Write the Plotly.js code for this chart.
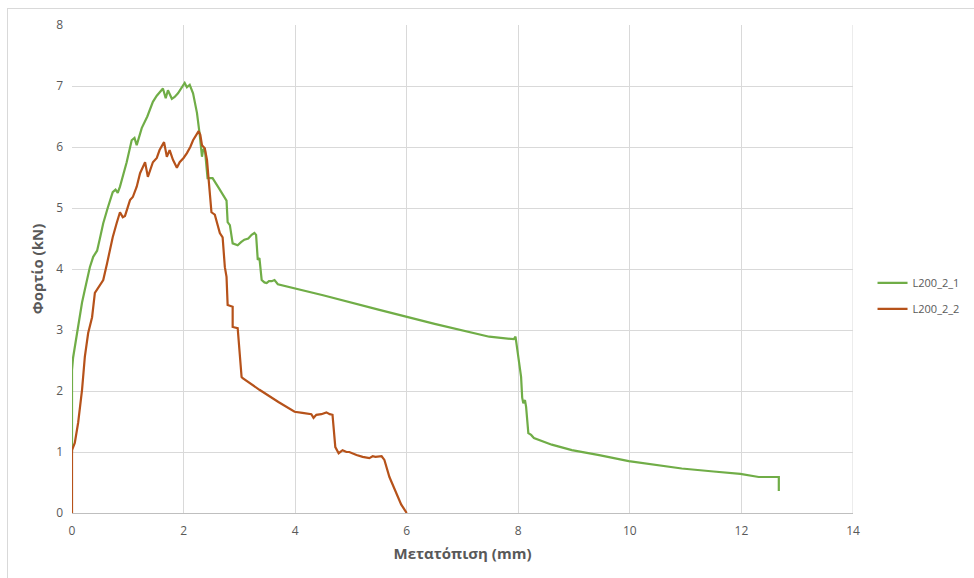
<!DOCTYPE html>
<html>
<head>
<meta charset="utf-8">
<script src="https://cdn.plot.ly/plotly-3.0.1.min.js"></script>
<style>
html,body{margin:0;padding:0;background:#fff;}
#wrap{position:relative;width:974px;height:578px;overflow:hidden;}
#frame{position:absolute;left:7px;top:8px;width:1000px;height:700px;border-top:1px solid #d9d9d9;border-left:1px solid #d9d9d9;}
#chart{position:absolute;left:0;top:0;width:974px;height:578px;}
</style>
</head>
<body>
<div id="wrap"><div id="frame"></div><div id="chart"></div></div>
<script>
var s1Name = "L200_2_1";
var s1X = [0, 0, 0.02, 0.05, 0.09, 0.14, 0.18, 0.23, 0.28, 0.32, 0.38, 0.45, 0.5, 0.56, 0.64, 0.73, 0.78, 0.82, 0.86, 0.91, 0.98, 1.07, 1.12, 1.16, 1.25, 1.35, 1.45, 1.52, 1.57, 1.63, 1.68, 1.72, 1.79, 1.84, 1.9, 1.97, 2.02, 2.06, 2.11, 2.17, 2.24, 2.29, 2.33, 2.35, 2.38, 2.43, 2.52, 2.63, 2.74, 2.77, 2.79, 2.83, 2.88, 2.93, 2.97, 3.03, 3.09, 3.16, 3.22, 3.27, 3.3, 3.33, 3.36, 3.4, 3.45, 3.49, 3.53, 3.58, 3.63, 3.69, 4.5, 5.51, 6.5, 7.48, 7.92, 7.95, 7.98, 8.02, 8.05, 8.07, 8.09, 8.12, 8.14, 8.18, 8.23, 8.28, 8.6, 8.96, 9.45, 9.98, 10.5, 10.93, 11.5, 11.98, 12.31, 12.67, 12.67];
var s1Y = [1.0, 2.34, 2.55, 2.72, 2.98, 3.2, 3.45, 3.66, 3.85, 4.03, 4.2, 4.3, 4.5, 4.75, 5.0, 5.26, 5.3, 5.25, 5.35, 5.5, 5.75, 6.11, 6.15, 6.03, 6.31, 6.5, 6.74, 6.84, 6.9, 6.96, 6.8, 6.93, 6.79, 6.82, 6.88, 6.97, 7.05, 6.98, 7.02, 6.88, 6.56, 6.2, 5.84, 5.95, 5.98, 5.49, 5.49, 5.33, 5.16, 5.12, 4.77, 4.72, 4.42, 4.4, 4.39, 4.44, 4.48, 4.5, 4.56, 4.59, 4.56, 4.15, 4.18, 3.82, 3.78, 3.77, 3.8, 3.8, 3.82, 3.75, 3.57, 3.33, 3.1, 2.89, 2.85, 2.89, 2.67, 2.45, 2.23, 1.89, 1.8, 1.85, 1.74, 1.31, 1.28, 1.23, 1.12, 1.03, 0.95, 0.85, 0.78, 0.73, 0.68, 0.64, 0.59, 0.59, 0.36];

var s2Name = "L200_2_2";
var s2X = [0, 0, 0.05, 0.11, 0.18, 0.23, 0.29, 0.36, 0.41, 0.47, 0.56, 0.63, 0.68, 0.73, 0.8, 0.86, 0.91, 0.95, 1.04, 1.09, 1.16, 1.22, 1.31, 1.36, 1.45, 1.52, 1.57, 1.65, 1.7, 1.75, 1.81, 1.88, 1.93, 2.0, 2.06, 2.12, 2.17, 2.22, 2.27, 2.3, 2.33, 2.38, 2.42, 2.45, 2.5, 2.56, 2.65, 2.7, 2.74, 2.77, 2.79, 2.88, 2.88, 2.97, 3.04, 3.06, 3.36, 3.7, 3.99, 4.13, 4.29, 4.33, 4.38, 4.47, 4.56, 4.62, 4.67, 4.72, 4.78, 4.85, 4.92, 4.97, 5.04, 5.1, 5.21, 5.33, 5.39, 5.44, 5.55, 5.6, 5.69, 5.81, 5.9, 6.0];
var s2Y = [0, 1.03, 1.15, 1.48, 2.02, 2.56, 2.95, 3.21, 3.61, 3.69, 3.82, 4.1, 4.31, 4.52, 4.75, 4.93, 4.85, 4.87, 5.13, 5.18, 5.35, 5.57, 5.75, 5.51, 5.75, 5.82, 5.95, 6.08, 5.84, 5.95, 5.79, 5.66, 5.75, 5.82, 5.9, 6.0, 6.11, 6.18, 6.26, 6.2, 6.03, 5.98, 5.79, 5.46, 4.93, 4.89, 4.59, 4.52, 4.03, 3.87, 3.41, 3.38, 3.05, 3.03, 2.23, 2.21, 2.02, 1.82, 1.66, 1.64, 1.62, 1.56, 1.61, 1.62, 1.65, 1.62, 1.61, 1.08, 0.98, 1.03, 1.0, 1.0, 0.97, 0.95, 0.92, 0.9, 0.93, 0.92, 0.93, 0.87, 0.59, 0.33, 0.14, 0.0];

var xTicks = [0, 2, 4, 6, 8, 10, 12, 14];
var yTicks = [0, 1, 2, 3, 4, 5, 6, 7, 8];
var xTitle = "Μετατόπιση (mm)";
var yTitle = "Φορτίο (kN)";

var traces = [
  {x: s1X, y: s1Y, name: s1Name, legendgroup: "g1", type: "scatter", mode: "lines", line: {color: "#70ad47", width: 2.2}},
  {x: s2X, y: s2Y, name: s2Name, legendgroup: "g2", type: "scatter", mode: "lines", line: {color: "#b6521a", width: 2.2}}
];

var fontFam = "Open Sans, Liberation Sans, sans-serif";
var layout = {
  width: 974, height: 578,
  margin: {l: 72, r: 121, t: 25, b: 65, autoexpand: false},
  paper_bgcolor: "rgba(0,0,0,0)",
  plot_bgcolor: "rgba(0,0,0,0)",
  font: {family: fontFam, color: "#595959", size: 12},
  showlegend: true,
  legend: {x: 1.025, y: 0.445, xanchor: "left", yanchor: "middle", font: {size: 11, color: "#595959"}, tracegroupgap: 7, itemwidth: 30, bgcolor: "rgba(0,0,0,0)"},
  xaxis: {
    range: [0, 14], tickvals: xTicks, ticktext: xTicks.map(String),
    showgrid: true, gridcolor: "#d9d9d9", gridwidth: 1,
    zeroline: false, showline: true, linecolor: "#bfbfbf", linewidth: 1,
    mirror: false, ticks: "", ticklen: 0, ticklabelstandoff: 7,
    tickfont: {size: 12, color: "#595959"},
    title: {text: xTitle, font: {size: 15, color: "#595959", family: fontFam, weight: "bold"}, standoff: 10}
  },
  yaxis: {
    range: [0, 8], tickvals: yTicks, ticktext: yTicks.map(String),
    showgrid: true, gridcolor: "#d9d9d9", gridwidth: 1,
    zeroline: false, showline: false,
    ticks: "", ticklen: 0, ticklabelstandoff: 8,
    tickfont: {size: 12, color: "#595959"},
    title: {text: yTitle, font: {size: 15, color: "#595959", family: fontFam, weight: "bold"}, standoff: 8}
  },
  shapes: [
    {type: "line", xref: "x", yref: "paper", x0: 14, x1: 14, y0: 0, y1: 1, line: {color: "#d9d9d9", width: 1}}
  ]
};

Plotly.newPlot("chart", traces, layout, {staticPlot: true, displayModeBar: false});
</script>
</body>
</html>
